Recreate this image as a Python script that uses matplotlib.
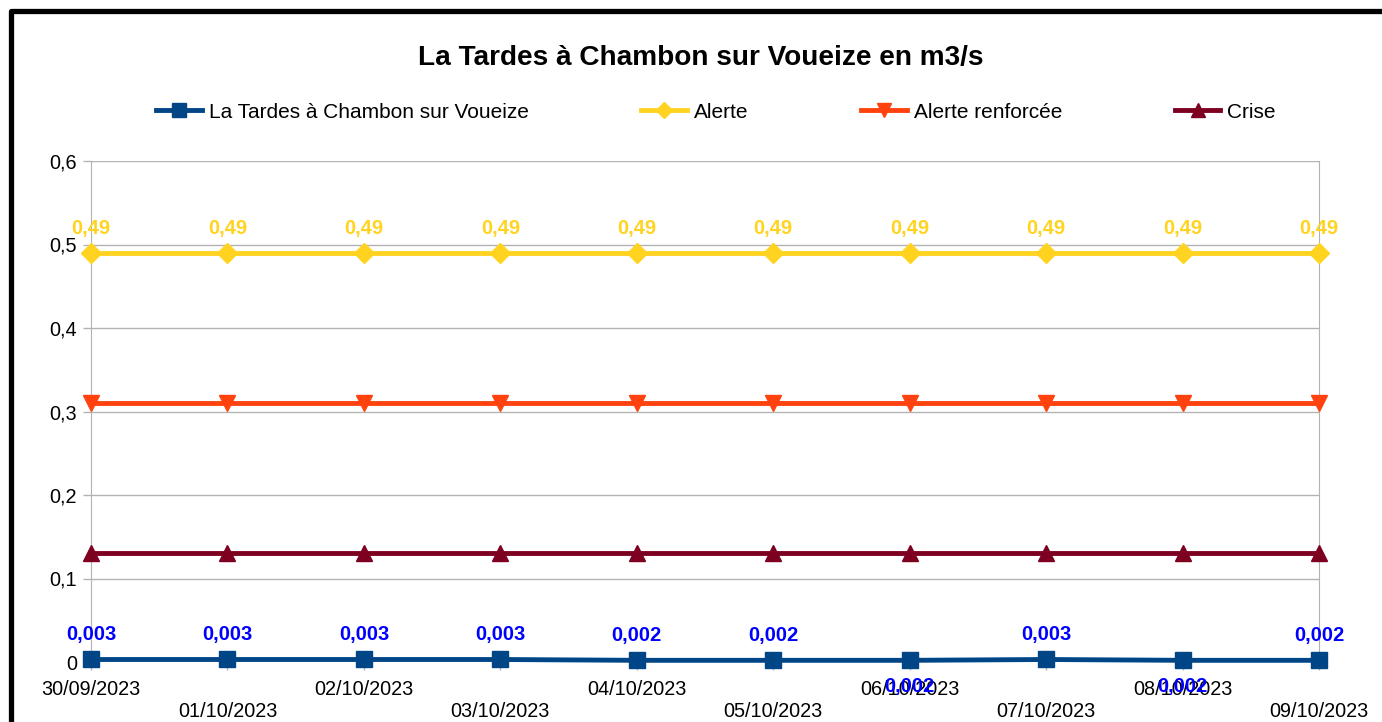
import matplotlib.pyplot as plt
from matplotlib.patches import Rectangle

plt.rcParams['font.family'] = ['Liberation Sans', 'DejaVu Sans']

dates = ["30/09/2023", "01/10/2023", "02/10/2023", "03/10/2023", "04/10/2023",
         "05/10/2023", "06/10/2023", "07/10/2023", "08/10/2023", "09/10/2023"]
debit = [0.003, 0.003, 0.003, 0.003, 0.002, 0.002, 0.002, 0.003, 0.002, 0.002]
alerte = [0.49] * 10
alerte_renforcee = [0.31] * 10
crise = [0.13] * 10
# labels placed below the point in the original
below_idx = [6, 8]

W, H = 1382, 722
fig = plt.figure(figsize=(W / 100, H / 100), dpi=100)
ax = fig.add_axes([91 / W, (H - 662) / H, (1319 - 91) / W, (662 - 161) / H])

x = list(range(len(dates)))
ax.plot(x, debit, color='#004586', lw=3.5, marker='s', ms=12, label='La Tardes à Chambon sur Voueize',
        zorder=5, clip_on=False)
ax.plot(x, alerte, color='#ffd320', lw=3.5, marker='D', ms=10, label='Alerte', zorder=4, clip_on=False)
ax.plot(x, alerte_renforcee, color='#ff420e', lw=3.5, marker='v', ms=12, label='Alerte renforcée',
        zorder=4, clip_on=False)
ax.plot(x, crise, color='#7e0021', lw=3.5, marker='^', ms=12, label='Crise', zorder=4, clip_on=False)

# data labels
for i, v in enumerate(alerte):
    ax.annotate(f"{v:.2f}".replace('.', ','), (i, v), xytext=(0, 24), textcoords='offset pixels',
                ha='center', va='center', color='#ffd320', fontsize=14.5, fontweight='bold', zorder=6)
for i, v in enumerate(debit):
    dy = -26 if i in below_idx else 25
    ax.annotate(f"{v:.3f}".replace('.', ','), (i, v), xytext=(0, dy), textcoords='offset pixels',
                ha='center', va='center', color='#0000ff', fontsize=14.5, fontweight='bold', zorder=6)

ax.set_xlim(0, len(dates) - 1)
ax.set_ylim(0, 0.6)
yt = [0, 0.1, 0.2, 0.3, 0.4, 0.5, 0.6]
ax.set_yticks(yt)
ax.set_yticklabels(['0' if t == 0 else f"{t:.1f}".replace('.', ',') for t in yt])
ax.set_xticks(x)
ax.set_xticklabels([d if i % 2 == 0 else '\n' + d for i, d in enumerate(dates)], linespacing=1.2)

ax.grid(axis='y', color='#b3b3b3', lw=1)
ax.set_axisbelow(True)
for s in ['top', 'bottom']:
    ax.spines[s].set_visible(False)
for s in ['left', 'right']:
    ax.spines[s].set_color('#b3b3b3')
ax.tick_params(axis='both', colors='#b3b3b3', labelcolor='black', labelsize=14.3, length=6, width=1)
ax.tick_params(axis='x', pad=7)
ax.tick_params(axis='y', pad=4)

fig.text(701 / W, 1 - 58 / H, "La Tardes à Chambon sur Voueize en m3/s", ha='center', va='center',
         fontsize=20.2, fontweight='bold')

leg = fig.legend(loc='center', bbox_to_anchor=(716 / W, 1 - 112 / H), ncol=4, frameon=False,
                 fontsize=15, handlelength=2.2, handletextpad=0.33, columnspacing=5.4,
                 markerscale=0.85)

fig.patches.append(Rectangle((10.5 / W, -0.1), 1.2, 1.1 - 10.5 / H, transform=fig.transFigure,
                             fill=False, ec='black', lw=3.8, joinstyle='round'))

fig.savefig('out.png', dpi=100)
